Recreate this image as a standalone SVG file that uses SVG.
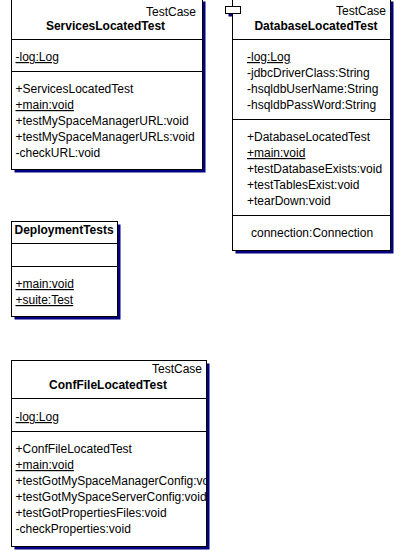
<svg xmlns="http://www.w3.org/2000/svg" width="405" height="551" viewBox="0 0 405 551">
<style>
.box{fill:#fff;stroke:#000;stroke-width:1}
.shadow{fill:#000080;stroke:none}
.sep{stroke:#000;stroke-width:1}
text{font-family:"Liberation Sans",Arial,sans-serif;font-size:12px;fill:#000}
.b{font-weight:bold}
.u{text-decoration:underline}
.m{text-anchor:middle}
.e{text-anchor:end}
</style>
<defs>
<clipPath id="clipConf"><rect x="12" y="361" width="194" height="185"/></clipPath>
</defs>
<rect width="405" height="551" fill="#fff"/>
<g id="connectors"/>
<g id="ServicesLocatedTest">
<rect class="shadow" x="14.5" y="1.5" width="191" height="171"/>
<rect class="box" x="11.5" y="-1.5" width="191" height="171"/>
<line class="sep" x1="11.5" y1="39.5" x2="202.5" y2="39.5"/>
<line class="sep" x1="11.5" y1="71.5" x2="202.5" y2="71.5"/>
<text class="e" x="196" y="16">TestCase</text>
<text class="b m" x="105.5" y="30">ServicesLocatedTest</text>
<text class="u" x="15.5" y="61">-log:Log</text>
<text x="15.5" y="93">+ServicesLocatedTest</text>
<text class="u" x="15.5" y="109">+main:void</text>
<text x="15.5" y="125">+testMySpaceManagerURL:void</text>
<text x="15.5" y="141">+testMySpaceManagerURLs:void</text>
<text x="15.5" y="157">-checkURL:void</text>
</g>
<g id="DatabaseLocatedTest">
<rect class="shadow" x="228.5" y="9.5" width="15" height="7"/>
<rect class="shadow" x="235.5" y="1.5" width="158" height="252"/>
<rect class="box" x="232.5" y="-1.5" width="158" height="252"/>
<rect class="box" x="225.5" y="6.5" width="15" height="7"/>
<line class="sep" x1="232.5" y1="39.5" x2="390.5" y2="39.5"/>
<line class="sep" x1="232.5" y1="119.5" x2="390.5" y2="119.5"/>
<line class="sep" x1="232.5" y1="215.5" x2="390.5" y2="215.5"/>
<text class="e" x="386" y="15">TestCase</text>
<text class="b m" x="316" y="30">DatabaseLocatedTest</text>
<text class="u" x="247" y="61">-log:Log</text>
<text x="247" y="77">-jdbcDriverClass:String</text>
<text x="247" y="93">-hsqldbUserName:String</text>
<text x="247" y="109">-hsqldbPassWord:String</text>
<text x="247" y="141">+DatabaseLocatedTest</text>
<text class="u" x="247" y="157">+main:void</text>
<text x="247" y="173">+testDatabaseExists:void</text>
<text x="247" y="189">+testTablesExist:void</text>
<text x="247" y="205">+tearDown:void</text>
<text x="251" y="237">connection:Connection</text>
</g>
<g id="DeploymentTests">
<rect class="shadow" x="14.5" y="224.5" width="106" height="95"/>
<rect class="box" x="11.5" y="221.5" width="106" height="95"/>
<line class="sep" x1="11.5" y1="243.5" x2="117.5" y2="243.5"/>
<line class="sep" x1="11.5" y1="266.5" x2="117.5" y2="266.5"/>
<text class="b" x="14.5" y="234">DeploymentTests</text>
<text class="u" x="15.5" y="288">+main:void</text>
<text class="u" x="15.5" y="304">+suite:Test</text>
</g>
<g id="ConfFileLocatedTest">
<rect class="shadow" x="14.5" y="363.5" width="195" height="186"/>
<rect class="box" x="11.5" y="360.5" width="195" height="186"/>
<line class="sep" x1="11.5" y1="398.5" x2="206.5" y2="398.5"/>
<line class="sep" x1="11.5" y1="431.5" x2="206.5" y2="431.5"/>
<g clip-path="url(#clipConf)">
<text class="e" x="202" y="373">TestCase</text>
<text class="b m" x="108" y="389">ConfFileLocatedTest</text>
<text class="u" x="15.5" y="421">-log:Log</text>
<text x="15.5" y="453">+ConfFileLocatedTest</text>
<text class="u" x="15.5" y="469">+main:void</text>
<text x="15.5" y="485">+testGotMySpaceManagerConfig:void</text>
<text x="15.5" y="501">+testGotMySpaceServerConfig:void</text>
<text x="15.5" y="517">+testGotPropertiesFiles:void</text>
<text x="15.5" y="533">-checkProperties:void</text>
</g>
</g>
</svg>
